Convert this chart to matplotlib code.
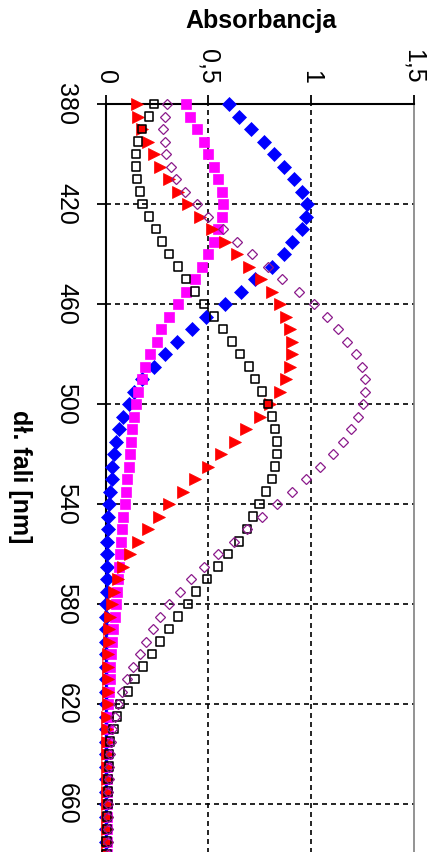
import matplotlib
matplotlib.use("Agg")
import matplotlib.pyplot as plt

plt.rcParams['font.family'] = ['Liberation Sans', 'DejaVu Sans']

wavelength = [380, 385, 390, 395, 400, 405, 410, 415, 420, 425, 430, 435, 440, 445, 450,
              455, 460, 465, 470, 475, 480, 485, 490, 495, 500, 505, 510, 515, 520, 525,
              530, 535, 540, 545, 550, 555, 560, 565, 570, 575, 580, 585, 590, 595, 600,
              605, 610, 615, 620, 625, 630, 635, 640, 645, 650, 655, 660, 665, 670, 675, 680]

blue = [0.60, 0.65, 0.71, 0.77, 0.82, 0.87, 0.92, 0.955, 0.98, 0.975, 0.955, 0.91, 0.87, 0.81, 0.73,
        0.66, 0.58, 0.49, 0.42, 0.35, 0.29, 0.235, 0.18, 0.14, 0.115, 0.085, 0.068, 0.052, 0.042, 0.033,
        0.030, 0.024, 0.016, 0.012, 0.010, 0.008, 0.007, 0.006, 0.005, 0.005, 0.004, 0.004, 0.004, 0.003, 0.003,
        0.003, 0.003, 0.003, 0.002, 0.002, 0.002, 0.002, 0.002, 0.002, 0.002, 0.002, 0.002, 0.002, 0.002, 0.002, 0.002]

magenta = [0.39, 0.41, 0.445, 0.48, 0.50, 0.53, 0.55, 0.565, 0.57, 0.565, 0.55, 0.527, 0.50, 0.47, 0.435,
           0.39, 0.353, 0.31, 0.27, 0.25, 0.218, 0.19, 0.177, 0.16, 0.15, 0.141, 0.13, 0.125, 0.117, 0.114,
           0.104, 0.098, 0.093, 0.085, 0.081, 0.076, 0.072, 0.065, 0.060, 0.055, 0.049, 0.044, 0.038, 0.033, 0.027,
           0.023, 0.020, 0.016, 0.013, 0.011, 0.010, 0.009, 0.008, 0.007, 0.007, 0.006, 0.006, 0.005, 0.005, 0.005, 0.005]

red = [0.155, 0.16, 0.18, 0.206, 0.234, 0.267, 0.309, 0.353, 0.40, 0.46, 0.52, 0.58, 0.64, 0.70, 0.755,
       0.81, 0.85, 0.88, 0.90, 0.91, 0.91, 0.90, 0.88, 0.85, 0.80, 0.75, 0.686, 0.63, 0.564, 0.50,
       0.434, 0.377, 0.309, 0.26, 0.206, 0.158, 0.117, 0.085, 0.060, 0.040, 0.030, 0.024, 0.018, 0.015, 0.013,
       0.012, 0.011, 0.010, 0.010, 0.009, 0.008, 0.008, 0.007, 0.007, 0.006, 0.006, 0.006, 0.005, 0.005, 0.005, 0.005]

black = [0.236, 0.21, 0.177, 0.16, 0.15, 0.15, 0.152, 0.169, 0.18, 0.21, 0.244, 0.276, 0.31, 0.353, 0.39,
         0.437, 0.48, 0.528, 0.572, 0.616, 0.657, 0.70, 0.73, 0.764, 0.79, 0.81, 0.824, 0.836, 0.836, 0.824,
         0.81, 0.78, 0.75, 0.72, 0.69, 0.65, 0.597, 0.548, 0.494, 0.442, 0.40, 0.353, 0.309, 0.267, 0.226,
         0.182, 0.141, 0.109, 0.072, 0.055, 0.039, 0.023, 0.018, 0.018, 0.011, 0.011, 0.011, 0.006, 0.006, 0.005, 0.005]

purple = [0.30, 0.288, 0.28, 0.288, 0.297, 0.317, 0.345, 0.389, 0.445, 0.50, 0.57, 0.64, 0.714, 0.79, 0.86,
          0.94, 1.016, 1.077, 1.133, 1.177, 1.218, 1.247, 1.263, 1.263, 1.252, 1.231, 1.198, 1.155, 1.106, 1.044,
          0.976, 0.906, 0.833, 0.764, 0.69, 0.624, 0.548, 0.48, 0.418, 0.361, 0.309, 0.263, 0.23, 0.198, 0.166,
          0.133, 0.106, 0.081, 0.060, 0.047, 0.034, 0.026, 0.020, 0.017, 0.015, 0.014, 0.013, 0.012, 0.012, 0.011, 0.011]

# black squares drawn with red fill at these wavelengths
black_red_fill = [390, 500]

abs_ticks = [0, 0.5, 1, 1.5]
abs_labels = ["0", "0,5", "1", "1,5"]
wl_ticks = [380, 420, 460, 500, 540, 580, 620, 660]

W, H = 436, 852
fig = plt.figure(figsize=(W / 100, H / 100), dpi=100)
ax = fig.add_axes([105.5 / W, -2 / H, 308 / W, 750 / H])

ax.plot(blue, wavelength, linestyle='none', marker='D', ms=7.0, mfc='#0000FF', mec='#0000FF',
        mew=0.5, clip_on=False, zorder=3)
ax.plot(magenta, wavelength, linestyle='none', marker='s', ms=7.0, mfc='#FF00FF', mec='#FF00FF',
        mew=0.5, clip_on=False, zorder=3)
ax.plot(red, wavelength, linestyle='none', marker='>', ms=8.0, mfc='#FF0000', mec='#FF0000',
        mew=0.5, clip_on=False, zorder=3)
fills = ['#FF0000' if w in black_red_fill else 'none' for w in wavelength]
ax.scatter(black, wavelength, marker='s', s=34, facecolors=fills, edgecolors='black',
           linewidths=1.15, clip_on=False, zorder=4)
ax.plot(purple, wavelength, linestyle='none', marker='D', ms=5.6, mfc='none', mec='#8B1A8B',
        mew=0.9, clip_on=False, zorder=5)

ax.set_xlim(0, 1.5)
ax.set_ylim(680, 380)

ax.xaxis.tick_top()
ax.set_xticks(abs_ticks)
ax.set_xticklabels(abs_labels, rotation=-90, fontsize=18)
ax.set_yticks(wl_ticks)
ax.set_yticklabels([str(t) for t in wl_ticks], rotation=-90, fontsize=18, va='center')
ax.tick_params(axis='x', direction='out', length=6.5, width=1.3, pad=8, colors='black')
ax.tick_params(axis='y', direction='out', length=6.5, width=1.3, pad=13, colors='black')

ax.grid(True, color='black', linestyle=(0, (3.0, 2.4)), linewidth=1.2, zorder=1)
ax.set_axisbelow(True)
ax.xaxis.get_gridlines()[-1].set_visible(False)
ax.xaxis.get_gridlines()[0].set_visible(False)
ax.yaxis.get_gridlines()[0].set_visible(False)

for s in ['top', 'left']:
    ax.spines[s].set_color('black')
    ax.spines[s].set_linewidth(1.5)
ax.spines['right'].set_color('#808080')
ax.spines['right'].set_linewidth(1.2)
ax.spines['bottom'].set_visible(False)

fig.text(261 / W, 1 - 28 / H, "Absorbancja", fontsize=18, fontweight='bold',
         ha='center', va='baseline')
fig.text(20 / W, 1 - 477 / H, "dł. fali [nm]", fontsize=18, fontweight='bold',
         rotation=-90, ha='center', va='center')

fig.savefig("out.png", dpi=100)
